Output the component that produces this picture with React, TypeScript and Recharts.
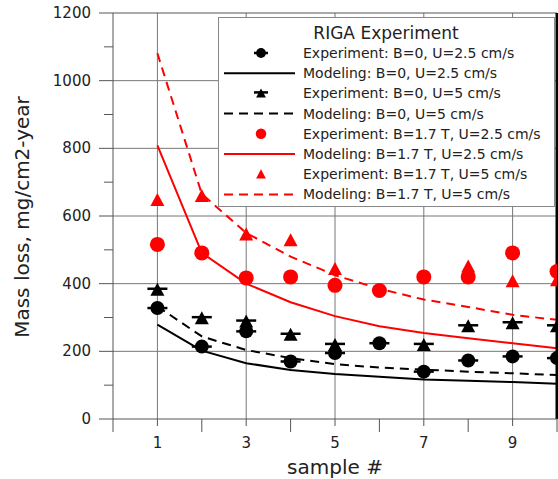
import React from "react";
import {
  ComposedChart, Line, XAxis, YAxis, ReferenceLine, Legend, Label
} from "recharts";

const samples = [1, 2, 3, 4, 5, 6, 7, 8, 9, 10];
const expB0U25 = [328, 214, 259, 170, 195, 224, 140, 173, 185, 180];
const modB0U25 = [279, 202, 165, 145, 133, 125, 117, 113, 109, 104];
const expB0U5 = [382, 298, 288, 249, 219, null, 219, 274, 283, 274];
const modB0U5 = [333, 244, 204, 180, 162, 152, 146, 140, 135, 130];
const expB17U25 = [516, 491, 417, 420, 395, 380, 420, 420, 491, 436];
const modB17U25 = [809, 491, 400, 345, 304, 274, 254, 239, 224, 209];
const expB17U5 = [647, 659, 545, 528, 443, null, null, 451, 407, 410];
const modB17U5 = [1081, 665, 550, 480, 425, 385, 353, 331, 308, 293];

const xTicks = [0, 1, 2, 3, 4, 5, 6, 7, 8, 9, 10];
const yTicks = [0, 100, 200, 300, 400, 500, 600, 700, 800, 900, 1000, 1100, 1200];
const xGrid = [1, 3, 5, 7, 9];
const yGrid = [200, 400, 600, 800, 1000];

const FONT = "DejaVu Sans, sans-serif";
const RED = "#ff0000";

type Meta = {
  key: string; name: string; color: string;
  marker?: "circleBar" | "triBar" | "circle" | "tri";
  dash?: string;
};

const series: Meta[] = [
  { key: "expB0U25", name: "Experiment: B=0, U=2.5 cm/s", color: "#000", marker: "circleBar" },
  { key: "modB0U25", name: "Modeling: B=0, U=2.5 cm/s", color: "#000" },
  { key: "expB0U5", name: "Experiment: B=0, U=5 cm/s", color: "#000", marker: "triBar" },
  { key: "modB0U5", name: "Modeling: B=0, U=5 cm/s", color: "#000", dash: "9 6" },
  { key: "expB17U25", name: "Experiment: B=1.7 T, U=2.5 cm/s", color: RED, marker: "circle" },
  { key: "modB17U25", name: "Modeling: B=1.7 T, U=2.5 cm/s", color: RED },
  { key: "expB17U5", name: "Experiment: B=1.7 T, U=5 cm/s", color: RED, marker: "tri" },
  { key: "modB17U5", name: "Modeling: B=1.7 T, U=5 cm/s", color: RED, dash: "9 6" },
];

const data = samples.map((s, i) => ({
  sample: s,
  expB0U25: expB0U25[i], modB0U25: modB0U25[i],
  expB0U5: expB0U5[i], modB0U5: modB0U5[i],
  expB17U25: expB17U25[i], modB17U25: modB17U25[i],
  expB17U5: expB17U5[i], modB17U5: modB17U5[i],
}));

function drawMarker(kind: string, cx: number, cy: number, color: string, s = 1) {
  if (kind === "circleBar") {
    return (
      <g>
        <line x1={cx - 10 * s} x2={cx + 10 * s} y1={cy} y2={cy} stroke={color} strokeWidth={2.5} />
        <circle cx={cx} cy={cy} r={7 * s} fill={color} />
      </g>
    );
  }
  if (kind === "triBar") {
    return (
      <g>
        <polygon points={`${cx},${cy - 7 * s} ${cx - 7 * s},${cy + 6 * s} ${cx + 7 * s},${cy + 6 * s}`} fill={color} />
        <line x1={cx - 10 * s} x2={cx + 10 * s} y1={cy - 1} y2={cy - 1} stroke={color} strokeWidth={2.5} />
      </g>
    );
  }
  if (kind === "circle") {
    return <circle cx={cx} cy={cy} r={7.5 * s} fill={color} />;
  }
  return (
    <polygon points={`${cx},${cy - 7 * s} ${cx - 7 * s},${cy + 6 * s} ${cx + 7 * s},${cy + 6 * s}`} fill={color} />
  );
}

const makeDot = (m: Meta) => (p: any) => {
  if (p.cy == null || p.value == null) return <g key={`${m.key}-${p.index}`} />;
  return <g key={`${m.key}-${p.index}`}>{drawMarker(m.marker!, p.cx, p.cy, m.color)}</g>;
};

const YTick = (p: any) => {
  const v = p.payload.value;
  const major = v % 200 === 0;
  return (
    <g>
      <line x1={p.x - (major ? 14 : 9)} x2={p.x} y1={p.y} y2={p.y} stroke="#555" strokeWidth={1} />
      {major && (
        <text x={p.x - 22} y={p.y} textAnchor="end" dominantBaseline="central"
          fontSize={15} fontFamily={FONT} fill="#222">{v}</text>
      )}
    </g>
  );
};

const XTick = (p: any) => {
  const v = p.payload.value;
  const odd = v % 2 === 1;
  return (
    <g>
      <line x1={p.x} x2={p.x} y1={p.y} y2={p.y + (odd ? 7 : 13)} stroke="#555" strokeWidth={1} />
      {odd && (
        <text x={p.x} y={p.y + 24} textAnchor="middle" dominantBaseline="central"
          fontSize={15} fontFamily={FONT} fill="#222">{v}</text>
      )}
    </g>
  );
};

const LegendBox = () => (
  <svg width={337} height={190} style={{ display: "block" }}>
    <rect x={0.5} y={0.5} width={336} height={189} fill="#fff" stroke="#888" strokeWidth={1} />
    <text x={168} y={16} textAnchor="middle" dominantBaseline="central"
      fontSize={17} fontFamily={FONT} fill="#222">RIGA Experiment</text>
    {series.map((m, i) => {
      const y = 36 + i * 20.2;
      return (
        <g key={m.key}>
          {m.marker
            ? drawMarker(m.marker, 43, y, m.color, 0.7)
            : <line x1={6} x2={77} y1={y} y2={y} stroke={m.color} strokeWidth={2} strokeDasharray={m.dash} />}
          <text x={85} y={y} dominantBaseline="central" fontSize={14} fontFamily={FONT} fill="#222">{m.name}</text>
        </g>
      );
    })}
  </svg>
);

export default function App() {
  return (
    <div style={{ position: "absolute", left: 0, top: 0, width: 558, height: 479, background: "#fff" }}>
      <ComposedChart width={558} height={479} data={data}
        margin={{ top: 13, right: 1, bottom: 0, left: 0 }} style={{ fontFamily: FONT }}>
        {xGrid.map(x => (
          <ReferenceLine key={`gx${x}`} x={x} stroke="#777" strokeWidth={1} ifOverflow="extendDomain" />
        ))}
        {yGrid.map(y => (
          <ReferenceLine key={`gy${y}`} y={y} stroke="#777" strokeWidth={1} />
        ))}
        <ReferenceLine y={1200} stroke="#555" strokeWidth={1} />
        <XAxis dataKey="sample" type="number" domain={[0, 10]} ticks={xTicks} interval={0}
          allowDataOverflow height={60} tickSize={0} tickMargin={0} tick={<XTick />}
          axisLine={{ stroke: "#555" }}>
          <Label content={(props: any) => (
            <text x={props.viewBox.x + props.viewBox.width / 2} y={467} textAnchor="middle"
              dominantBaseline="central" fontSize={20} fontFamily={FONT} fill="#222">sample #</text>
          )} />
        </XAxis>
        <YAxis type="number" domain={[0, 1200]} ticks={yTicks} interval={0} width={113}
          tickSize={0} tickMargin={0} tick={<YTick />} axisLine={{ stroke: "#555" }}>
          <Label content={() => (
            <text x={22} y={217} transform="rotate(-90 22 217)" textAnchor="middle"
              dominantBaseline="central" fontSize={20} fontFamily={FONT} fill="#222">
              Mass loss, mg/cm2-year
            </text>
          )} />
        </YAxis>
        {series.map(m => m.marker ? (
          <Line key={m.key} dataKey={m.key} name={m.name} stroke="none" strokeWidth={0}
            dot={makeDot(m)} activeDot={false} isAnimationActive={false} legendType="none" />
        ) : (
          <Line key={m.key} dataKey={m.key} name={m.name} type="linear" stroke={m.color}
            strokeWidth={2} strokeDasharray={m.dash} dot={false} activeDot={false}
            isAnimationActive={false} legendType="none" />
        ))}
        <ReferenceLine x={10} stroke="#000" strokeWidth={3} />
        <Legend layout="horizontal" verticalAlign="middle" align="center"
          content={() => <LegendBox />}
          wrapperStyle={{ position: "absolute", left: 218, top: 17, width: 337, height: 190 }} />
      </ComposedChart>
    </div>
  );
}
